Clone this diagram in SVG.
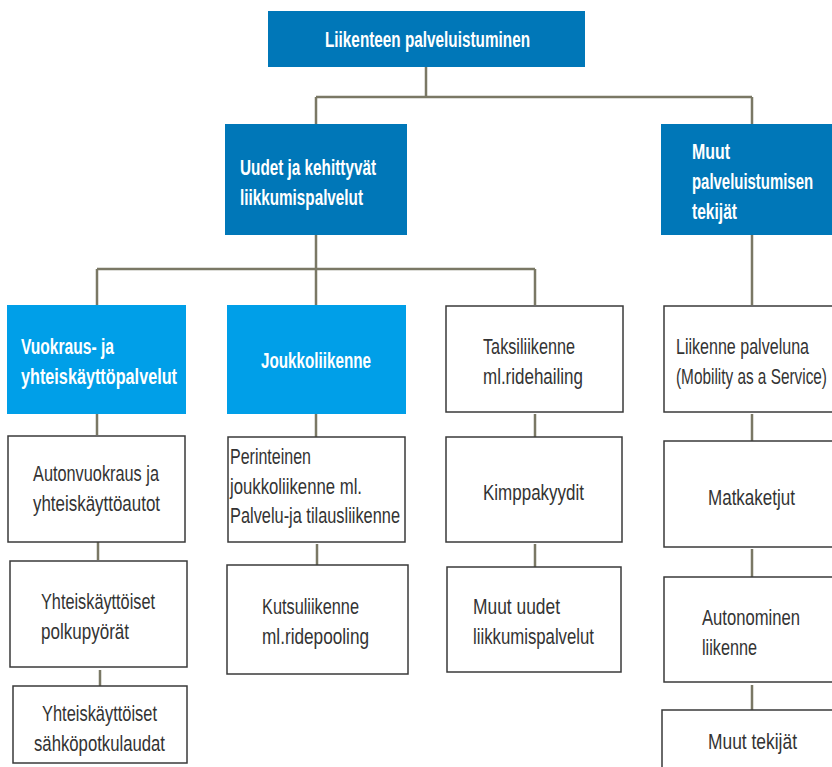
<svg xmlns="http://www.w3.org/2000/svg" width="832" height="767" viewBox="0 0 832 767">
<style>
.dk{fill:#0077B8}
.lt{fill:#009FE8}
.wb{fill:#FFFFFF;stroke:#3A3A3A;stroke-width:1.5}
.ht{font-family:"Liberation Sans",Arial,sans-serif;font-weight:bold;font-size:22px;fill:#FFFFFF}
.bt{font-family:"Liberation Sans",Arial,sans-serif;font-size:22px;fill:#333333}
.cn{fill:none;stroke:#7A7865;stroke-width:2.5}
</style>
<rect width="832" height="767" fill="#FFFFFF"/>
<g id="connectors">
<path class="cn" d="M426 67V97M316 97H752M316 97V124M752 97V124"/>
<path class="cn" d="M316 235V305M97 269H535M97 269V305M535 269V305M752 235V305"/>
<path class="cn" d="M97 414V435M98 542V560M100 670V686"/>
<path class="cn" d="M316 414V437M317 544V565"/>
<path class="cn" d="M535 414V437M535 544V567"/>
<path class="cn" d="M752 414V441M752 549V577M752 685V710"/>
</g>
<g id="n-top"><rect class="dk" x="268" y="11" width="317" height="56"/><text class="ht" x="325" y="47" textLength="205" lengthAdjust="spacingAndGlyphs">Liikenteen palveluistuminen</text></g>
<g id="n-uudet"><rect class="dk" x="225" y="124" width="182" height="111"/><text class="ht" x="240" y="175" textLength="136" lengthAdjust="spacingAndGlyphs">Uudet ja kehittyvät</text><text class="ht" x="240" y="205" textLength="123" lengthAdjust="spacingAndGlyphs">liikkumispalvelut</text></g>
<g id="n-muut"><rect class="dk" x="661" y="124" width="171" height="111"/><text class="ht" x="692" y="159" textLength="38" lengthAdjust="spacingAndGlyphs">Muut</text><text class="ht" transform="translate(692,189) scale(0.68,1)" textLength="178" lengthAdjust="spacingAndGlyphs">palveluistumisen</text><text class="ht" x="692" y="219" textLength="45" lengthAdjust="spacingAndGlyphs">tekijät</text></g>
<g id="n-vuokraus"><rect class="lt" x="7" y="305" width="179" height="109"/><text class="ht" x="21" y="354" textLength="93" lengthAdjust="spacingAndGlyphs">Vuokraus- ja</text><text class="ht" x="21" y="384" textLength="156" lengthAdjust="spacingAndGlyphs">yhteiskäyttöpalvelut</text></g>
<g id="n-joukko"><rect class="lt" x="227" y="305" width="179" height="109"/><text class="ht" x="261" y="368" textLength="110" lengthAdjust="spacingAndGlyphs">Joukkoliikenne</text></g>
<g id="n-taksi"><rect class="wb" x="446" y="306" width="177" height="106"/><text class="bt" x="483" y="354" textLength="92" lengthAdjust="spacingAndGlyphs">Taksiliikenne</text><text class="bt" x="483" y="384" textLength="100" lengthAdjust="spacingAndGlyphs">ml.ridehailing</text></g>
<g id="n-maas"><rect class="wb" x="664" y="306" width="172" height="106"/><text class="bt" transform="translate(676,354) scale(0.78,1)" textLength="170.5" lengthAdjust="spacingAndGlyphs">Liikenne palveluna</text><text class="bt" transform="translate(676,384) scale(0.68,1)" textLength="222" lengthAdjust="spacingAndGlyphs">(Mobility as a Service)</text></g>
<g id="n-auto"><rect class="wb" x="8" y="436" width="177" height="106"/><text class="bt" x="33" y="481" textLength="126" lengthAdjust="spacingAndGlyphs">Autonvuokraus ja</text><text class="bt" x="33" y="511" textLength="127" lengthAdjust="spacingAndGlyphs">yhteiskäyttöautot</text></g>
<g id="n-polku"><rect class="wb" x="10" y="561" width="177" height="106"/><text class="bt" x="41" y="609" textLength="114" lengthAdjust="spacingAndGlyphs">Yhteiskäyttöiset</text><text class="bt" x="41" y="639" textLength="88" lengthAdjust="spacingAndGlyphs">polkupyörät</text></g>
<g id="n-sahko"><rect class="wb" x="13" y="686" width="174" height="77"/><text class="bt" x="42" y="721" textLength="115" lengthAdjust="spacingAndGlyphs">Yhteiskäyttöiset</text><text class="bt" x="34" y="751" textLength="131" lengthAdjust="spacingAndGlyphs">sähköpotkulaudat</text></g>
<g id="n-perint"><rect class="wb" x="228" y="437" width="177" height="105"/><text class="bt" x="230" y="464" textLength="81" lengthAdjust="spacingAndGlyphs">Perinteinen</text><text class="bt" x="230" y="494" textLength="132" lengthAdjust="spacingAndGlyphs">joukkoliikenne ml.</text><text class="bt" x="230" y="523" textLength="170" lengthAdjust="spacingAndGlyphs">Palvelu-ja tilausliikenne</text></g>
<g id="n-kutsu"><rect class="wb" x="227" y="565" width="181" height="109"/><text class="bt" x="262" y="614" textLength="97" lengthAdjust="spacingAndGlyphs">Kutsuliikenne</text><text class="bt" x="262" y="644" textLength="107" lengthAdjust="spacingAndGlyphs">ml.ridepooling</text></g>
<g id="n-kimppa"><rect class="wb" x="446" y="437" width="176" height="105"/><text class="bt" x="483" y="500" textLength="101" lengthAdjust="spacingAndGlyphs">Kimppakyydit</text></g>
<g id="n-muutuudet"><rect class="wb" x="447" y="567" width="174" height="105"/><text class="bt" x="473" y="614" textLength="87" lengthAdjust="spacingAndGlyphs">Muut uudet</text><text class="bt" x="473" y="644" textLength="121" lengthAdjust="spacingAndGlyphs">liikkumispalvelut</text></g>
<g id="n-matka"><rect class="wb" x="664" y="441" width="172" height="106"/><text class="bt" x="708" y="505" textLength="87" lengthAdjust="spacingAndGlyphs">Matkaketjut</text></g>
<g id="n-autonom"><rect class="wb" x="664" y="577" width="172" height="105"/><text class="bt" x="702" y="625" textLength="98" lengthAdjust="spacingAndGlyphs">Autonominen</text><text class="bt" x="702" y="655" textLength="55" lengthAdjust="spacingAndGlyphs">liikenne</text></g>
<g id="n-muutt"><rect class="wb" x="662" y="710" width="174" height="70"/><text class="bt" x="708" y="749" textLength="89" lengthAdjust="spacingAndGlyphs">Muut tekijät</text></g>
</svg>
